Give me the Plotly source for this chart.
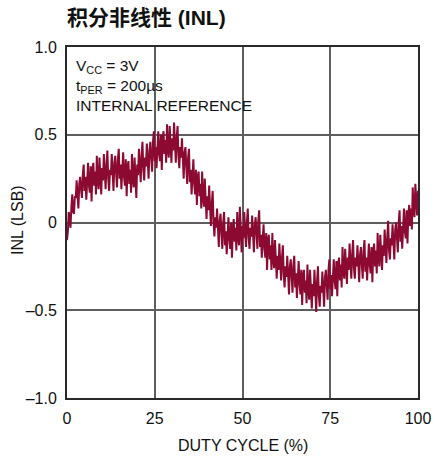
import plotly.graph_objects as go

duty_cycle = [i * 0.25 for i in range(401)]
inl = [
    -0.10, -0.05, 0.06, 0.00, -0.03, 0.09, 0.16, 0.06, 0.05, 0.15,
    0.14, 0.24, 0.14, 0.08, 0.22, 0.26, 0.19, 0.14, 0.27, 0.33,
    0.18, 0.26, 0.13, 0.29, 0.34, 0.21, 0.17, 0.32, 0.12, 0.30,
    0.34, 0.21, 0.29, 0.16, 0.38, 0.24, 0.19, 0.37, 0.23, 0.16,
    0.31, 0.24, 0.39, 0.26, 0.19, 0.33, 0.41, 0.25, 0.18, 0.30,
    0.27, 0.39, 0.25, 0.18, 0.34, 0.38, 0.28, 0.20, 0.36, 0.42,
    0.25, 0.33, 0.19, 0.35, 0.40, 0.26, 0.21, 0.36, 0.15, 0.32,
    0.35, 0.22, 0.30, 0.17, 0.39, 0.25, 0.20, 0.37, 0.23, 0.14,
    0.33, 0.27, 0.42, 0.30, 0.23, 0.38, 0.46, 0.30, 0.24, 0.37,
    0.32, 0.45, 0.31, 0.25, 0.41, 0.46, 0.37, 0.29, 0.46, 0.52,
    0.35, 0.43, 0.31, 0.47, 0.52, 0.39, 0.35, 0.50, 0.30, 0.48,
    0.52, 0.39, 0.47, 0.34, 0.56, 0.42, 0.37, 0.55, 0.41, 0.34,
    0.48, 0.41, 0.57, 0.42, 0.34, 0.48, 0.55, 0.38, 0.31, 0.43,
    0.37, 0.48, 0.33, 0.25, 0.40, 0.43, 0.31, 0.22, 0.37, 0.42,
    0.23, 0.30, 0.16, 0.32, 0.36, 0.22, 0.16, 0.30, 0.10, 0.26,
    0.29, 0.15, 0.22, 0.08, 0.29, 0.15, 0.09, 0.25, 0.10, 0.02,
    0.15, 0.07, 0.21, 0.06, -0.02, 0.11, 0.18, 0.00, -0.08, 0.03,
    -0.03, 0.08, -0.06, -0.14, 0.01, 0.05, -0.06, -0.15, 0.00, 0.06,
    -0.13, -0.05, -0.18, -0.02, 0.03, -0.10, -0.15, 0.00, -0.20, -0.03,
    0.02, -0.11, -0.03, -0.16, 0.06, -0.08, -0.13, 0.09, -0.10, -0.17,
    -0.02, -0.09, 0.06, -0.07, -0.14, 0.00, 0.08, -0.09, -0.15, -0.03,
    -0.08, 0.04, -0.10, -0.17, -0.01, 0.03, -0.07, -0.15, 0.01, 0.07,
    -0.14, -0.07, -0.20, -0.05, -0.01, -0.15, -0.20, -0.06, -0.27, -0.10,
    -0.07, -0.21, -0.13, -0.27, -0.06, -0.21, -0.26, -0.10, -0.25, -0.32,
    -0.19, -0.27, -0.12, -0.26, -0.33, -0.20, -0.13, -0.30, -0.37, -0.25,
    -0.31, -0.19, -0.33, -0.41, -0.25, -0.21, -0.31, -0.40, -0.24, -0.19,
    -0.37, -0.29, -0.43, -0.27, -0.22, -0.35, -0.41, -0.27, -0.47, -0.30,
    -0.27, -0.40, -0.33, -0.46, -0.24, -0.38, -0.44, -0.27, -0.42, -0.49,
    -0.35, -0.42, -0.27, -0.40, -0.51, -0.33, -0.25, -0.42, -0.48, -0.36,
    -0.40, -0.28, -0.41, -0.48, -0.31, -0.27, -0.36, -0.44, -0.27, -0.21,
    -0.38, -0.30, -0.42, -0.26, -0.21, -0.33, -0.38, -0.22, -0.42, -0.24,
    -0.20, -0.33, -0.24, -0.37, -0.14, -0.28, -0.32, -0.15, -0.28, -0.35,
    -0.20, -0.27, -0.12, -0.25, -0.32, -0.18, -0.10, -0.26, -0.32, -0.20,
    -0.25, -0.13, -0.27, -0.34, -0.18, -0.14, -0.24, -0.32, -0.16, -0.10,
    -0.28, -0.20, -0.33, -0.17, -0.12, -0.24, -0.29, -0.14, -0.34, -0.16,
    -0.12, -0.25, -0.16, -0.29, -0.06, -0.20, -0.25, -0.07, -0.21, -0.27,
    -0.13, -0.19, -0.04, -0.16, -0.23, -0.08, 0.01, -0.16, -0.21, -0.09,
    -0.13, -0.01, -0.14, -0.21, -0.04, 0.00, -0.09, -0.17, 0.00, 0.07,
    -0.11, -0.02, -0.15, 0.02, 0.08, -0.05, -0.09, 0.07, -0.12, 0.05,
    0.10, -0.02, 0.08, -0.04, 0.20, 0.07, 0.03, 0.22, 0.09, 0.04,
    0.18,
]

x_ticks = [0, 25, 50, 75, 100]
x_tick_labels = ["0", "25", "50", "75", "100"]
y_ticks = [-1.0, -0.5, 0, 0.5, 1.0]
y_tick_labels = ["\u20131.0", "\u20130.5", "0", "0.5", "1.0"]

title_text = "<b>积分非线性 (INL)</b>"
x_title = "DUTY CYCLE (%)"
y_title = "INL (LSB)"
note_lines = ["V<sub>CC</sub> = 3V", "t<sub>PER</sub> = 200µs", "INTERNAL REFERENCE"]

FONT = "Liberation Sans, Noto Sans CJK SC, sans-serif"
TXT = "#111111"

fig = go.Figure()
fig.add_trace(go.Scatter(
    x=duty_cycle, y=inl, mode="lines",
    line=dict(color="#8c0a32", width=2),
    showlegend=False, hoverinfo="skip",
))

axis_common = dict(
    showline=True, linecolor="#2a2a2a", linewidth=2, mirror=True,
    showgrid=True, gridcolor="#5e5e5e", gridwidth=1.5,
    ticks="", automargin=False,
    tickfont=dict(size=16, color=TXT, family=FONT),
)

fig.update_xaxes(
    range=[0, 100], tickvals=x_ticks, ticktext=x_tick_labels,
    zeroline=False, ticklabelstandoff=5,
    **axis_common,
)
fig.update_yaxes(
    range=[-1, 1], tickvals=y_ticks, ticktext=y_tick_labels,
    zeroline=True, zerolinecolor="#5e5e5e", zerolinewidth=1.5,
    ticklabelstandoff=5,
    **axis_common,
)

# axis titles placed as annotations for exact positioning
fig.add_annotation(
    text=x_title, xref="paper", yref="paper",
    x=0.5, y=(398 - 445) / 351, xanchor="center", yanchor="middle",
    showarrow=False, font=dict(size=16, color=TXT, family=FONT),
)
fig.add_annotation(
    text=y_title, xref="paper", yref="paper",
    x=(18 - 67) / 351, y=(398 - 220) / 351, xanchor="center", yanchor="middle",
    textangle=-90, showarrow=False, font=dict(size=16, color=TXT, family=FONT),
)

fig.add_annotation(
    text="<br>".join(note_lines), xref="paper", yref="paper",
    x=0.02, y=0.978, xanchor="left", yanchor="top", align="left",
    showarrow=False, font=dict(size=15.5, color=TXT, family=FONT),
)

fig.update_layout(
    width=435, height=461,
    margin=dict(l=67, r=17, t=47, b=63),
    paper_bgcolor="white", plot_bgcolor="white",
    title=dict(text=title_text, x=67 / 435, xanchor="left", y=1 - 18 / 461, yanchor="middle",
               font=dict(size=21, color=TXT, family="Liberation Sans, Noto Sans CJK SC, sans-serif")),
)

fig.write_html("out.html")
